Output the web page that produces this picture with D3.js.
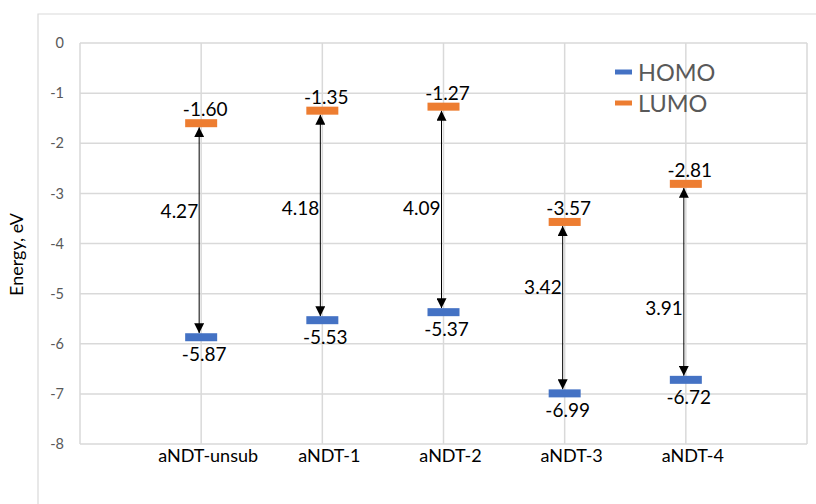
<!DOCTYPE html>
<html><head><meta charset="utf-8">
<script src="https://cdn.jsdelivr.net/npm/d3@7"></script>
<style>
body{margin:0;background:#fff}
svg{display:block}
text{font-family:Lato,"Open Sans","Noto Sans",sans-serif}
</style>
</head><body>
<svg id="c" width="816" height="504"></svg>
<script>
// ---- data ----
const categories = ["aNDT-unsub","aNDT-1","aNDT-2","aNDT-3","aNDT-4"];
const homo = [-5.87,-5.53,-5.37,-6.99,-6.72];
const lumo = [-1.60,-1.35,-1.27,-3.57,-2.81];
const gapLabels = ["4.27","4.18","4.09","3.42","3.91"];
const gapLabelAt = [-3.35,-3.30,-3.30,-4.87,-5.29]; // energy where gap label sits
const yTicks = [0,-1,-2,-3,-4,-5,-6,-7,-8];
const seriesNames = ["HOMO","LUMO"];
const seriesColors = ["#4472C4","#ED7D31"];

// ---- layout ----
const svg = d3.select("#c");
const W = 816, H = 504;
const plot = {left:80, right:807, top:43, bottom:444};
const x = d3.scaleLinear().domain([0, categories.length + 1]).range([plot.left, plot.right]);
const y = d3.scaleLinear().domain([-8, 0]).range([plot.bottom, plot.top]);
const grid = "#d9d9d9";
const fmt2 = d => d.toFixed(2);          // keeps ASCII hyphen-minus
const fmt0 = d => String(d);

// chart border
svg.append("path").attr("d", `M38,${H} L38,14 L${W},14`).attr("fill","none")
  .attr("stroke", grid).attr("stroke-width",1.2);

// grid lines
const gx = d3.range(0, categories.length + 2);
svg.append("g").selectAll("line").data(yTicks).join("line")
  .attr("x1", plot.left).attr("x2", plot.right)
  .attr("y1", d => y(d)).attr("y2", d => y(d))
  .attr("stroke", grid).attr("stroke-width", 1.5);
svg.append("g").selectAll("line").data(gx).join("line")
  .attr("x1", d => x(d)).attr("x2", d => x(d))
  .attr("y1", plot.top).attr("y2", plot.bottom)
  .attr("stroke", grid).attr("stroke-width", 1.5);

// y axis via d3 axis (labels only)
const yAxis = svg.append("g").attr("transform", `translate(${plot.left},0)`)
  .call(d3.axisLeft(y).tickValues(yTicks).tickSize(0).tickPadding(16).tickFormat(fmt0));
yAxis.select(".domain").remove();
yAxis.selectAll("text").attr("fill","#595959").style("font-size","14.5px")
  .style("font-family","Lato,'Open Sans',sans-serif");

// y title
svg.append("text").attr("transform", `translate(23,${(plot.top+plot.bottom)/2 + 11}) rotate(-90)`)
  .attr("text-anchor","middle").style("font-size","18px").attr("fill","#000")
  .text("Energy, eV");

// category labels
svg.append("g").selectAll("text").data(categories).join("text")
  .attr("x", (d,i) => x(i+1) + 7).attr("y", 462)
  .attr("text-anchor","middle").style("font-size","18px").attr("fill","#000")
  .text(d => d);

// arrow markers
const defs = svg.append("defs");
defs.append("marker").attr("id","ah").attr("markerUnits","userSpaceOnUse")
  .attr("viewBox","0 0 10 10").attr("refX",10).attr("refY",5)
  .attr("markerWidth",10).attr("markerHeight",10).attr("orient","auto-start-reverse")
  .append("path").attr("d","M0,0 L10,5 L0,10 Z").attr("fill","#000");

const barW = 32, barH = 8;
const idx = d3.range(categories.length);

// arrows
svg.append("g").selectAll("line").data(idx).join("line")
  .attr("x1", i => x(i+1) - 2).attr("x2", i => x(i+1) - 2)
  .attr("y1", i => y(lumo[i]) + barH/2).attr("y2", i => y(homo[i]) - barH/2)
  .attr("stroke","#000").attr("stroke-width",1)
  .attr("marker-start","url(#ah)").attr("marker-end","url(#ah)");

// bars
[homo, lumo].forEach((vals, s) => {
  svg.append("g").selectAll("rect").data(vals).join("rect")
    .attr("x", (d,i) => x(i+1) - barW/2).attr("y", d => y(d) - barH/2)
    .attr("width", barW).attr("height", barH).attr("fill", seriesColors[s]);
});

// value labels
svg.append("g").selectAll("text").data(lumo).join("text")
  .attr("x", (d,i) => x(i+1) + 4).attr("y", d => y(d) - 14 + 7)
  .attr("text-anchor","middle").style("font-size","19px").attr("fill","#000")
  .text(fmt2);
svg.append("g").selectAll("text").data(homo).join("text")
  .attr("x", (d,i) => x(i+1) + 3).attr("y", d => y(d) + 17 + 7)
  .attr("text-anchor","middle").style("font-size","19px").attr("fill","#000")
  .text(fmt2);

// gap labels
svg.append("g").selectAll("text").data(gapLabels).join("text")
  .attr("x", (d,i) => x(i+1) - 3).attr("y", (d,i) => y(gapLabelAt[i]) + 7)
  .attr("text-anchor","end").style("font-size","19px").attr("fill","#000")
  .text(d => d);

// legend
const lg = svg.append("g");
seriesNames.forEach((n, i) => {
  const ly = 72 + i*31;
  lg.append("line").attr("x1",615).attr("x2",632).attr("y1",ly).attr("y2",ly)
    .attr("stroke", seriesColors[i]).attr("stroke-width",5);
  lg.append("text").attr("x",638).attr("y",ly+9).style("font-size","23.5px")
    .attr("fill","#595959").text(n);
});
</script>
</body></html>
